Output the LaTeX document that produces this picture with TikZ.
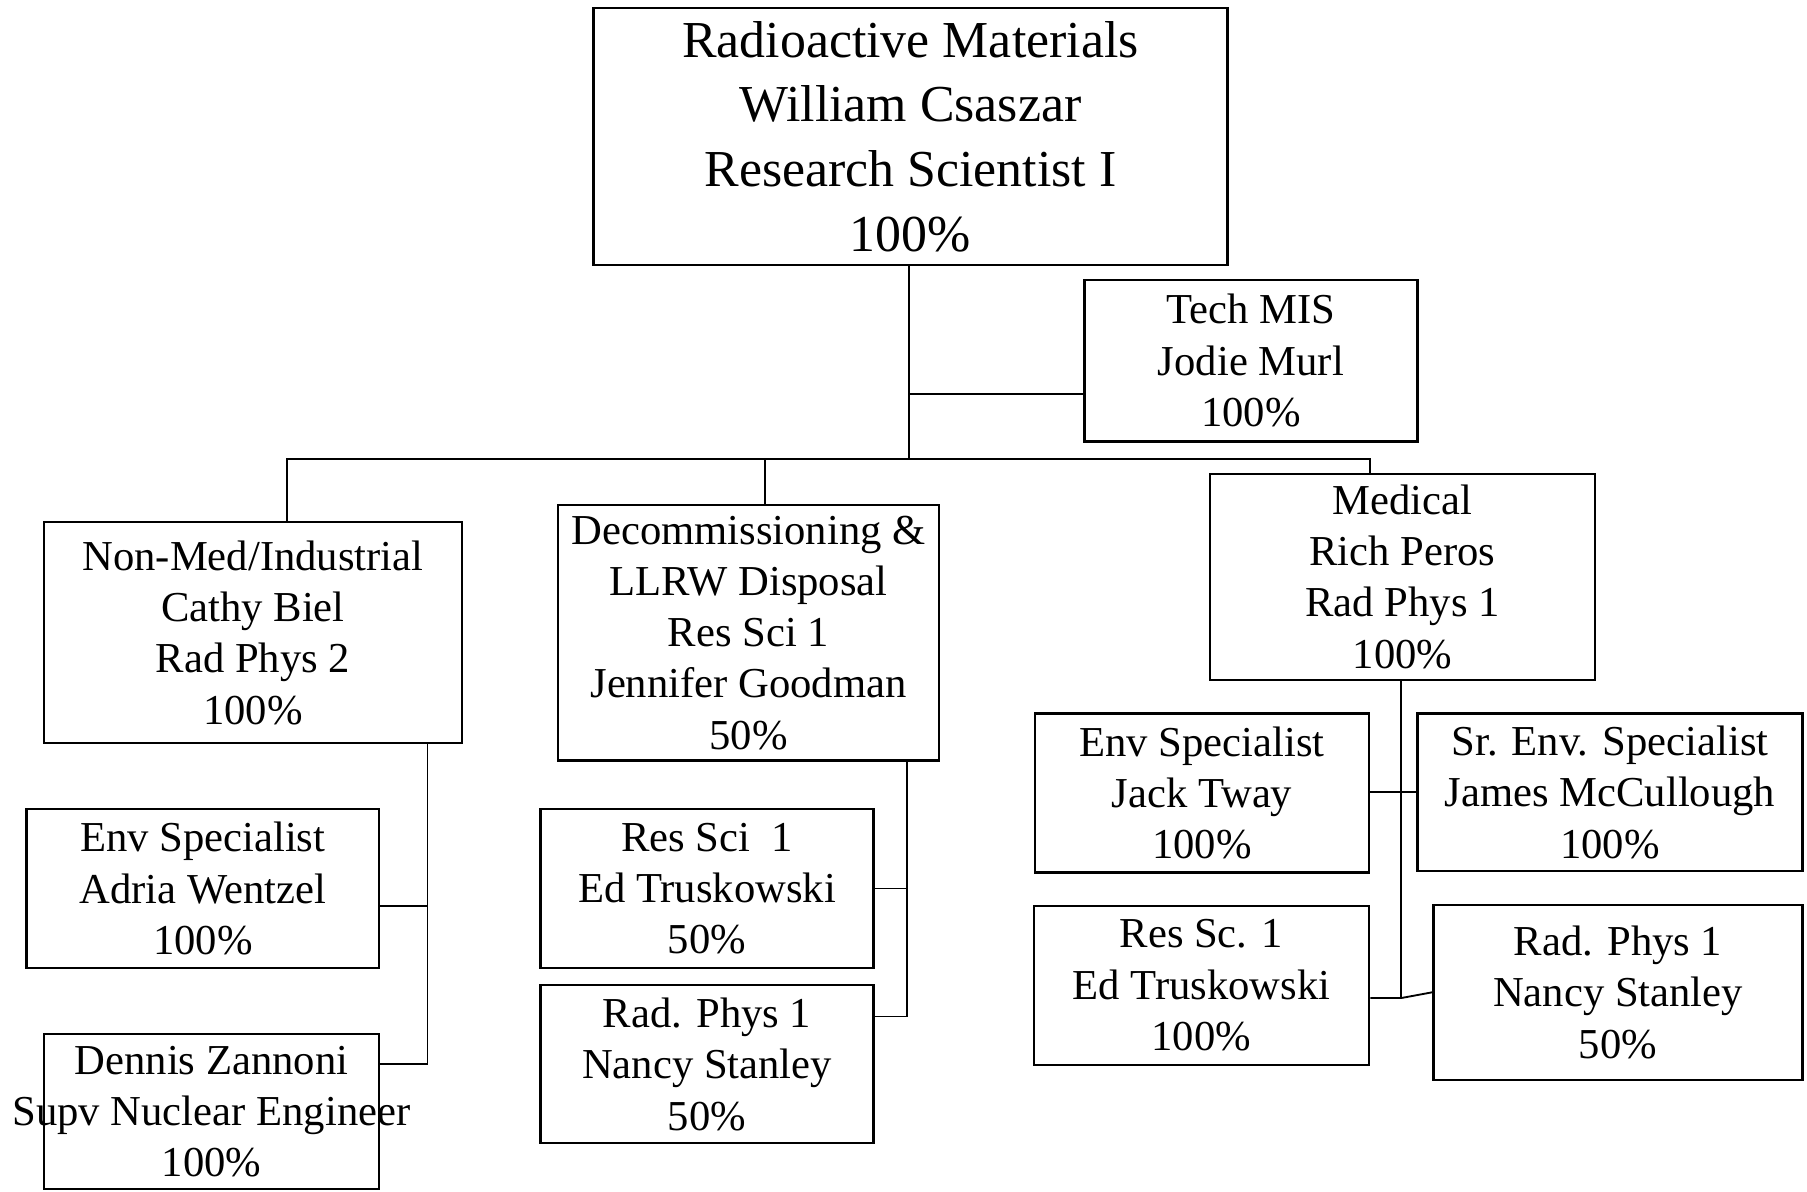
\documentclass[tikz,border=0pt]{standalone}
\usepackage{fontspec}
\setmainfont{Liberation Serif}
\tikzset{
  post/.style={draw, line width=2pt, align=center, inner sep=0pt,
    font=\fontsize{37}{44.5}\selectfont},
  link/.style={line width=1.6pt},
}
\begin{document}
\begin{tikzpicture}[x=1pt,y=-1pt]
\useasboundingbox (0,0) rectangle (1568,1034);
% top level
\node[post, minimum width=550pt, minimum height=223pt, font=\fontsize{45}{56}\selectfont] (head) at (790,118.5)
  {Radioactive Materials\\William Csaszar\\Research Scientist I\\100\%};
\node[post, minimum width=289pt, minimum height=140pt] (tech) at (1085.5,313) {Tech MIS\\Jodie Murl\\100\%};
% the three groups
\node[post, minimum width=363pt, minimum height=192pt] (nonmed) at (219.5,549) {Non-Med/Industrial\\Cathy Biel\\Rad Phys 2\\100\%};
\node[post, minimum width=331pt, minimum height=222pt] (decom) at (649.5,549) {Decommissioning \&\\LLRW Disposal\\Res Sci 1\\Jennifer Goodman\\50\%};
\node[post, minimum width=334pt, minimum height=179pt] (medical) at (1217,500.5) {Medical\\Rich Peros\\Rad Phys 1\\100\%};
% staff
\node[post, minimum width=306pt, minimum height=138pt] (wentzel) at (176,771) {Env Specialist\\Adria Wentzel\\100\%};
\node[post, minimum width=291pt, minimum height=135pt] (zannoni) at (183.5,964.5) {Dennis Zannoni\\\makebox[0pt]{Supv Nuclear Engineer}\\100\%};
\node[post, minimum width=289pt, minimum height=138pt] (truskA) at (613.5,771) {Res Sci~ 1\\Ed Truskowski\\50\%};
\node[post, minimum width=289pt, minimum height=137pt] (stanleyA) at (613.5,923.5) {Rad. Phys 1\\Nancy Stanley\\50\%};
\node[post, minimum width=290pt, minimum height=138pt] (tway) at (1043,688) {Env Specialist\\Jack Tway\\100\%};
\node[post, minimum width=334pt, minimum height=137pt] (mccull) at (1397,687.5) {Sr. Env. Specialist\\James McCullough\\100\%};
\node[post, minimum width=291pt, minimum height=138pt] (truskB) at (1042.5,855) {Res Sc. 1\\Ed Truskowski\\100\%};
\node[post, minimum width=320pt, minimum height=152pt] (stanleyB) at (1404,861) {Rad. Phys 1\\Nancy Stanley\\50\%};
% junctions
\coordinate (bus) at (789,398);
\coordinate (busL) at (249,398);
\coordinate (busM) at (664,398);
\coordinate (busR) at (1189,398);
\coordinate (jTech) at (789,342);
\coordinate (jW) at (371,786);
\coordinate (jZ) at (371,923);
\coordinate (jT) at (787,771);
\coordinate (jS) at (787,882);
\coordinate (jJ) at (1216,687);
\coordinate (jR) at (1216,866);
% lines
\draw[link] (head.south -| bus) -- (bus);
\draw[link] (jTech) -- (jTech -| tech.west);
\draw[link] (busL |- nonmed.north) -- (busL) -- (busR) -- (busR |- medical.north);
\draw[link] (busM) -- (busM |- decom.north);
\draw[link] (nonmed.south -| jZ) -- (jZ) -- (jZ -| zannoni.east);
\draw[link] (jW) -- (jW -| wentzel.east);
\draw[link] (decom.south -| jS) -- (jS) -- (jS -| stanleyA.east);
\draw[link] (jT) -- (jT -| truskA.east);
\draw[link] (medical.south -| jR) -- (jR);
\draw[link] (tway.east |- jJ) -- (mccull.west |- jJ);
\draw[link] (truskB.east |- jR) -- (jR) -- (stanleyB.west);
\end{tikzpicture}
\end{document}
